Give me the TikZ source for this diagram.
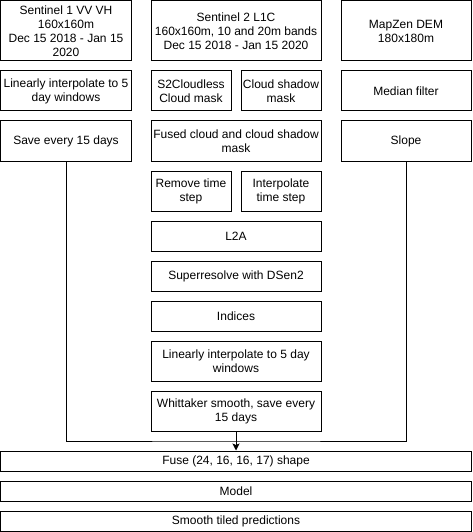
\documentclass[tikz,border=0pt]{standalone}
\usepackage{fontspec}
\setmainfont{Liberation Sans}
\usetikzlibrary{arrows.meta}
\tikzset{
  box/.style={draw=black, line width=1pt, fill=white, inner sep=0pt, align=center,
    font=\fontsize{12}{14}\selectfont},
  conn/.style={draw=black, line width=1pt},
}
\begin{document}
\begin{tikzpicture}[x=1pt,y=-1pt]
\useasboundingbox (-1,-1) rectangle (471,531);
% column 1
\node[box, minimum width=130pt, minimum height=60pt] (s1) at (65,30) {Sentinel 1 VV VH\\160x160m\\Dec 15 2018 - Jan 15\\2020};
\node[box, minimum width=130pt, minimum height=40pt] (lin1) at (65,90) {Linearly interpolate to 5\\day windows};
\node[box, minimum width=130pt, minimum height=40pt] (save) at (65,140) {Save every 15 days};
% column 2
\node[box, minimum width=170pt, minimum height=60pt] (s2) at (235,30) {Sentinel 2 L1C\\160x160m, 10 and 20m bands\\Dec 15 2018 - Jan 15 2020};
\node[box, minimum width=80pt, minimum height=40pt] (s2cl) at (190,90) {S2Cloudless\\Cloud mask};
\node[box, minimum width=80pt, minimum height=40pt] (csm) at (280,90) {Cloud shadow\\mask};
\node[box, minimum width=170pt, minimum height=40pt] (fused) at (235,140) {Fused cloud and cloud shadow\\mask};
\node[box, minimum width=80pt, minimum height=40pt] (rem) at (190,190) {Remove time\\step};
\node[box, minimum width=80pt, minimum height=40pt] (interp) at (280,190) {Interpolate\\time step};
\node[box, minimum width=170pt, minimum height=30pt] (l2a) at (235,235) {L2A};
\node[box, minimum width=170pt, minimum height=30pt] (sr) at (235,275) {Superresolve with DSen2};
\node[box, minimum width=170pt, minimum height=30pt] (ind) at (235,315) {Indices};
\node[box, minimum width=170pt, minimum height=40pt] (lin2) at (235,360) {Linearly interpolate to 5 day\\windows};
\node[box, minimum width=170pt, minimum height=40pt] (whit) at (235,410) {Whittaker smooth, save every\\15 days};
% column 3
\node[box, minimum width=130pt, minimum height=60pt] (dem) at (405,30) {MapZen DEM\\180x180m};
\node[box, minimum width=130pt, minimum height=40pt] (med) at (405,90) {Median filter};
\node[box, minimum width=130pt, minimum height=40pt] (slope) at (405,140) {Slope};
% bottom
\node[box, minimum width=470pt, minimum height=20pt] (fuse) at (235,460) {Fuse (24, 16, 16, 17) shape};
\node[box, minimum width=470pt, minimum height=20pt] (model) at (235,490) {Model};
\node[box, minimum width=470pt, minimum height=20pt] (smooth) at (235,520) {Smooth tiled predictions};
% connectors
\coordinate (j) at (235,440);
\draw[conn] (save.south) |- (j) -| (slope.south);
\draw[conn, -{Stealth[length=7pt,width=7pt,inset=1.5pt]}] (whit.south) -- (fuse.north);
\end{tikzpicture}
\end{document}
